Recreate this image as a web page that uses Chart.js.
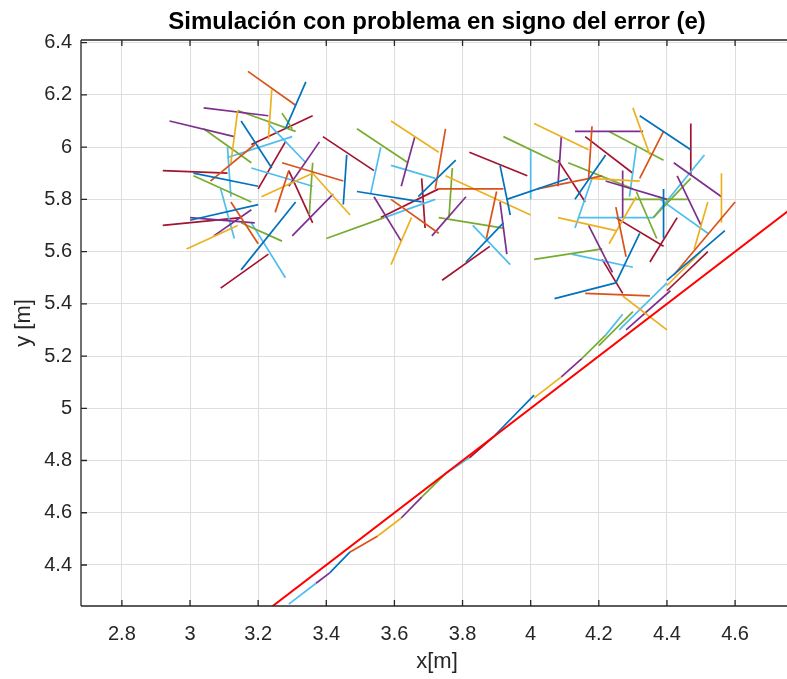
<!DOCTYPE html>
<html>
<head>
<meta charset="utf-8">
<script src="https://cdn.jsdelivr.net/npm/chart.js@4/dist/chart.umd.min.js"></script>
<style>
  html, body { margin: 0; padding: 0; background: #fff; overflow: hidden; }
  #wrap { position: relative; width: 800px; height: 679px; }
</style>
</head>
<body>
<div id="wrap"><canvas id="c" width="800" height="679"></canvas></div>
<script>
// ---- Data ----
const chartTitle = 'Simulación con problema en signo del error (e)';
const xLabel = 'x[m]';
const yLabel = 'y [m]';
const xTicks = [2.8, 3.0, 3.2, 3.4, 3.6, 3.8, 4.0, 4.2, 4.4, 4.6];
const yTicks = [4.4, 4.6, 4.8, 5.0, 5.2, 5.4, 5.6, 5.8, 6.0, 6.2, 6.4];
const xRange = [2.68, 4.77];
const yRange = [4.243, 6.41];

// reference line y = x + 1
const refLineX = [3.2, 4.8];
const refLineY = [4.2, 5.8];

// arrow segments [x1, y1, x2, y2], grouped by colour
const blueSegs = [
  [3.34,6.25,3.28,6.07],[3.15,6.10,3.24,5.92],[3.46,5.97,3.45,5.78],[3.01,5.90,3.20,5.85],
  [3.49,5.83,3.68,5.79],[3.31,5.79,3.15,5.53],[3.00,5.72,3.20,5.78],[3.78,5.95,3.67,5.81],
  [3.91,5.93,3.94,5.74],[3.92,5.71,3.81,5.56],[3.93,5.80,4.11,5.88],[4.22,5.97,4.13,5.80],
  [4.32,5.67,4.25,5.48],[4.07,5.42,4.25,5.48],[4.32,6.12,4.47,5.99],[4.39,5.84,4.39,5.65],
  [4.57,5.68,4.40,5.49],[3.41,4.37,3.47,4.45],[3.89,4.89,4.01,5.05]
];
const orangeSegs = [
  [3.17,6.29,3.31,6.16],[3.06,5.87,3.19,6.01],[3.27,5.94,3.45,5.87],[3.29,5.91,3.25,5.75],
  [3.12,5.79,3.20,5.63],[3.59,5.80,3.73,5.67],[3.75,6.07,3.72,5.84],[3.73,5.84,3.92,5.84],
  [3.90,5.83,3.87,5.65],[4.18,6.08,4.17,5.88],[4.02,5.84,4.21,5.89],[4.16,5.44,4.35,5.43],
  [4.39,6.06,4.32,5.88],[4.25,5.77,4.28,5.58],[4.60,5.79,4.42,5.51],[3.47,4.45,3.55,4.51]
];
const yellowSegs = [
  [3.24,6.22,3.23,6.03],[3.14,6.14,3.12,5.94],[3.59,6.10,3.73,5.98],[3.36,5.90,3.47,5.74],
  [3.36,5.90,3.21,5.81],[3.65,5.73,3.59,5.55],[2.99,5.61,3.14,5.70],[3.75,5.89,4.00,5.74],
  [4.01,6.09,4.17,5.99],[4.08,5.73,4.25,5.68],[4.30,6.15,4.35,5.97],[4.56,5.90,4.56,5.71],
  [4.31,5.81,4.23,5.63],[4.52,5.79,4.48,5.61],[4.27,5.43,4.40,5.30],[4.17,5.88,4.32,5.87],
  [3.55,4.51,3.62,4.58],[4.01,5.04,4.09,5.12],[4.40,5.47,4.50,5.60]
];
const purpleSegs = [
  [3.04,6.15,3.23,6.12],[2.94,6.10,3.13,6.04],[3.38,6.02,3.29,5.85],[3.66,6.04,3.62,5.85],
  [3.42,5.82,3.30,5.66],[3.54,5.81,3.62,5.64],[3.00,5.73,3.19,5.71],[3.07,5.66,3.18,5.76],
  [3.81,5.81,3.71,5.66],[3.91,5.79,3.93,5.59],[4.09,6.04,4.08,5.85],[4.17,5.70,4.24,5.52],
  [4.13,6.06,4.33,6.06],[4.42,5.94,4.56,5.81],[4.27,5.91,4.27,5.73],[4.22,5.87,4.40,5.80],
  [4.43,5.89,4.50,5.70],[3.62,4.58,3.68,4.66],[4.09,5.12,4.15,5.19],[4.28,5.30,4.41,5.45],
  [3.37,4.33,3.41,4.37]
];
const greenSegs = [
  [3.14,6.14,3.31,6.06],[3.27,6.13,3.30,6.07],[3.04,6.07,3.18,5.94],[3.49,6.07,3.64,5.94],
  [3.36,5.94,3.35,5.74],[3.01,5.89,3.18,5.79],[3.40,5.65,3.57,5.73],[3.15,5.71,3.27,5.64],
  [3.77,5.92,3.76,5.73],[3.73,5.73,3.92,5.69],[3.92,6.04,4.08,5.94],[4.11,5.94,4.30,5.84],
  [4.01,5.57,4.21,5.61],[4.23,6.06,4.39,5.95],[4.27,5.80,4.46,5.80],[4.31,5.83,4.37,5.65],
  [4.47,5.88,4.36,5.73],[3.68,4.66,3.75,4.75],[4.15,5.19,4.22,5.28],[4.20,5.24,4.30,5.37]
];
const cyanSegs = [
  [3.23,6.09,3.34,5.94],[3.30,6.04,3.11,5.96],[3.56,6.00,3.53,5.82],[3.59,5.93,3.72,5.88],
  [3.11,6.00,3.12,5.81],[3.18,5.92,3.36,5.85],[3.18,5.71,3.28,5.50],[3.09,5.84,3.13,5.65],
  [3.57,5.73,3.72,5.80],[4.00,5.99,4.00,5.80],[3.83,5.70,3.94,5.55],[4.18,5.88,4.13,5.69],
  [4.12,5.59,4.30,5.54],[4.51,5.97,4.36,5.73],[4.31,6.00,4.29,5.81],[4.14,5.73,4.36,5.73],
  [4.38,5.80,4.52,5.67],[3.29,4.25,3.37,4.33],[3.75,4.75,3.82,4.81],[4.22,5.28,4.27,5.36],
  [4.26,5.30,4.40,5.48]
];
const darkRedSegs = [
  [3.36,6.12,3.18,6.01],[3.28,6.02,3.20,5.84],[3.39,6.04,3.54,5.91],[2.92,5.91,3.11,5.90],
  [3.29,5.91,3.36,5.71],[3.73,5.84,3.56,5.73],[3.68,5.88,3.69,5.69],[3.23,5.59,3.09,5.46],
  [2.92,5.70,3.15,5.73],[3.82,5.98,3.99,5.89],[3.88,5.62,3.74,5.49],[4.16,6.04,4.30,5.90],
  [4.08,5.95,4.16,5.79],[4.47,6.09,4.47,5.89],[4.25,5.73,4.39,5.62],[4.43,5.73,4.35,5.56],
  [4.52,5.60,4.40,5.45],[4.21,5.57,4.27,5.44],[3.82,4.81,3.89,4.89]
];

const groups = [
  { segs: blueSegs,    color: '#0072BD' },
  { segs: orangeSegs,  color: '#D95319' },
  { segs: yellowSegs,  color: '#EDB120' },
  { segs: purpleSegs,  color: '#7E2F8E' },
  { segs: greenSegs,   color: '#77AC30' },
  { segs: cyanSegs,    color: '#4DBEEE' },
  { segs: darkRedSegs, color: '#A2142F' }
];

const datasets = [];
groups.forEach(g => {
  g.segs.forEach(s => {
    datasets.push({
      data: [{ x: s[0], y: s[1] }, { x: s[2], y: s[3] }],
      borderColor: g.color,
      backgroundColor: g.color,
      borderWidth: 1.7,
      pointRadius: 0,
      showLine: true,
      order: 1
    });
  });
});
datasets.push({
  data: refLineX.map((x, i) => ({ x: x, y: refLineY[i] })),
  borderColor: '#FF0000',
  borderWidth: 2,
  pointRadius: 0,
  showLine: true,
  order: 0
});

const axisColor = '#262626';
const fontFamily = '"Liberation Sans", Arial, Helvetica, sans-serif';

const boxPlugin = {
  id: 'matlabBox',
  afterDatasetsDraw(chart) {
    const { ctx, chartArea: a, scales } = chart;
    ctx.save();
    ctx.strokeStyle = axisColor;
    ctx.lineWidth = 1.3;
    ctx.beginPath();
    ctx.moveTo(a.left, a.top); ctx.lineTo(a.right, a.top);
    ctx.moveTo(a.left, a.top); ctx.lineTo(a.left, a.bottom);
    ctx.moveTo(a.left, a.bottom); ctx.lineTo(a.right, a.bottom);
    ctx.moveTo(a.right, a.top); ctx.lineTo(a.right, a.bottom);
    const tl = 6;
    xTicks.forEach(v => {
      const px = scales.x.getPixelForValue(v);
      ctx.moveTo(px, a.bottom); ctx.lineTo(px, a.bottom - tl);
      ctx.moveTo(px, a.top); ctx.lineTo(px, a.top + tl);
    });
    yTicks.forEach(v => {
      const py = scales.y.getPixelForValue(v);
      ctx.moveTo(a.left, py); ctx.lineTo(a.left + tl, py);
      ctx.moveTo(a.right, py); ctx.lineTo(a.right - tl, py);
    });
    ctx.stroke();
    ctx.restore();
  },
  afterDraw(chart) {
    const { ctx, chartArea: a } = chart;
    ctx.save();
    ctx.fillStyle = '#000';
    ctx.font = 'bold 24px ' + fontFamily;
    ctx.textAlign = 'center';
    ctx.textBaseline = 'alphabetic';
    ctx.fillText(chartTitle, (a.left + a.right) / 2, 29);
    ctx.restore();
  }
};

const fmt = v => String(+Number(v).toFixed(1));

new Chart(document.getElementById('c'), {
  type: 'scatter',
  data: { datasets: datasets },
  plugins: [boxPlugin],
  options: {
    responsive: false,
    animation: false,
    devicePixelRatio: 1,
    layout: { padding: { top: 40, right: 7, left: 0, bottom: 0 } },
    plugins: { legend: { display: false }, tooltip: { enabled: false }, title: { display: false } },
    scales: {
      x: {
        type: 'linear',
        min: xRange[0], max: xRange[1],
        afterBuildTicks: s => { s.ticks = xTicks.map(v => ({ value: v })); },
        afterFit: s => { s.height = 73; },
        grid: { color: '#dedede', lineWidth: 1, drawTicks: false },
        border: { display: false },
        ticks: { color: axisColor, font: { family: fontFamily, size: 20 }, padding: 16, callback: fmt, maxRotation: 0, autoSkip: false },
        title: { display: true, text: xLabel, color: axisColor, font: { family: fontFamily, size: 22 }, padding: { top: 0, bottom: 4 } }
      },
      y: {
        type: 'linear',
        min: yRange[0], max: yRange[1],
        afterBuildTicks: s => { s.ticks = yTicks.map(v => ({ value: v })); },
        afterFit: s => { s.width = 81; },
        grid: { color: '#dedede', lineWidth: 1, drawTicks: false },
        border: { display: false },
        ticks: { color: axisColor, font: { family: fontFamily, size: 20 }, padding: 9, callback: fmt, autoSkip: false },
        title: { display: true, text: yLabel, color: axisColor, font: { family: fontFamily, size: 22 }, padding: { top: 11, bottom: 0 } }
      }
    }
  }
});
</script>
</body>
</html>
